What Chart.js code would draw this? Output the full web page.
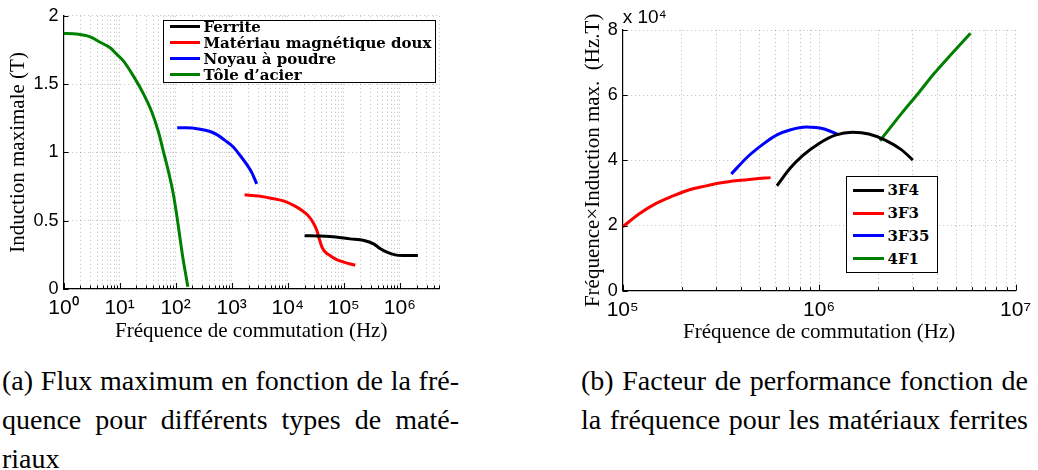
<!DOCTYPE html>
<html>
<head>
<meta charset="utf-8">
<script src="https://cdn.jsdelivr.net/npm/chart.js@4.4.0/dist/chart.umd.min.js"></script>
<style>
 html, body { margin: 0; padding: 0; background: #fff; }
 body { position: relative; width: 1038px; height: 470px; overflow: hidden; }
 .panel { position: absolute; top: 0; }
 .legend { position: absolute; box-sizing: border-box; background: #fff; border: 1.5px solid #000;
           font: bold 15px "DejaVu Serif", serif; color: #000; }
 .legend .row { position: absolute; left: 0; height: 16px; line-height: 16px; white-space: nowrap; }
 .legend .sw { position: absolute; top: 6.5px; height: 3px; }
 .legend .tx { position: absolute; top: 0; }
 .cap { position: absolute; font-family: "Liberation Serif", serif; font-size: 28px; color: #000; }
 .cap div { height: 39px; line-height: 39px; text-align: left; }
 .cap div.jl { text-align: justify; text-align-last: justify; }
</style>
</head>
<body>

<div class="panel" style="left:0;width:460px;height:350px">
  <canvas id="chartA" width="460" height="350"></canvas>
  <div class="legend" id="legendA" style="left:163px;top:20px;width:273px;height:63px"></div>
</div>
<div class="panel" style="left:540px;width:498px;height:350px">
  <canvas id="chartB" width="498" height="350"></canvas>
  <div class="legend" id="legendB" style="left:306px;top:176px;width:92px;height:97px"></div>
</div>

<div class="cap" style="left:2px;top:361px;width:457px">
  <div class="jl">(a) Flux maximum en fonction de la fré-</div>
  <div class="jl">quence pour différents types de maté-</div>
  <div>riaux</div>
</div>
<div class="cap" style="left:581px;top:361px;width:447px">
  <div class="jl">(b) Facteur de performance fonction de</div>
  <div class="jl">la fréquence pour les matériaux ferrites</div>
</div>

<script>
// (a) Induction maximale (T) vs fréquence (Hz)
const ferriteF = [2e4, 3.5e4, 5.7e4, 1.3e5, 2.3e5, 3.4e5, 4.5e5, 5.9e5, 8.3e5, 1.1e6, 2.1e6];
const ferriteB = [0.39, 0.388, 0.384, 0.367, 0.355, 0.33, 0.295, 0.27, 0.25, 0.246, 0.246];

const doux = [1700, 3000, 5000, 8400, 13000, 18000, 24000, 29000, 33000, 37000, 41000, 47000, 57000, 75000, 1e5, 1.6e5];
const douxB = [0.69, 0.68, 0.665, 0.645, 0.61, 0.575, 0.53, 0.48, 0.43, 0.36, 0.305, 0.27, 0.245, 0.215, 0.197, 0.174];

const poudreF = [107, 150, 275, 400, 545, 750, 1070, 1400, 1870, 2300, 2800];
const poudreB = [1.18, 1.18, 1.17, 1.155, 1.13, 1.09, 1.04, 0.98, 0.91, 0.85, 0.77];

const toleF = [1, 1.5, 2.2, 3, 4.5, 6.8, 8.7, 11.7, 17.6, 26.6, 37.6, 49.4, 60.6, 74.5, 89, 102, 117, 134, 154, 165];
const toleB = [1.87, 1.868, 1.86, 1.846, 1.806, 1.766, 1.723, 1.67, 1.56, 1.43, 1.296, 1.15, 1.006, 0.86, 0.717, 0.572, 0.403, 0.234, 0.089, 0.017];

// (b) Fréquence x Induction max (Hz.T) vs fréquence, ferrites
const f3F4 = [6.1e5, 7.1e5, 8.3e5, 1.0e6, 1.22e6, 1.48e6, 1.79e6, 2.17e6, 2.63e6, 3.0e6];
const v3F4 = [3.22e4, 3.75e4, 4.16e4, 4.52e4, 4.78e4, 4.86e4, 4.81e4, 4.62e4, 4.32e4, 4.01e4];

const f3F3 = [1e5, 1.22e5, 1.48e5, 1.79e5, 2.17e5, 2.63e5, 3.18e5, 3.86e5, 4.67e5, 5.66e5];
const v3F3 = [1.96e4, 2.37e4, 2.68e4, 2.9e4, 3.09e4, 3.21e4, 3.31e4, 3.38e4, 3.43e4, 3.47e4];

const f3F35 = [3.57e5, 4.33e5, 5.25e5, 6.1e5, 7.1e5, 8.6e5, 1.05e6, 1.26e6];
const v3F35 = [3.58e4, 4.11e4, 4.52e4, 4.78e4, 4.93e4, 5.02e4, 4.97e4, 4.78e4];

const f4F1 = [2.04e6, 2.63e6, 3.2e6, 3.86e6, 4.67e6, 5.9e6];
const v4F1 = [4.6e4, 5.44e4, 6.06e4, 6.67e4, 7.23e4, 7.9e4];

// tick labels
const aExps = [0, 1, 2, 3, 4, 5, 6];
const aXLabels = ['10⁰', '10¹', '10²', '10³', '10⁴', '10⁵', '10⁶'];
const aYTicks = [0, 0.5, 1, 1.5, 2];
const aYLabels = ['0', '0.5', '1', '1.5', '2'];

const bExps = [5, 6, 7];
const bXLabels = ['10⁵', '10⁶', '10⁷'];
const bYTicks = [0, 2e4, 4e4, 6e4, 8e4];
const bYLabels = ['0', '2', '4', '6', '8'];
const bYMultiplier = 'x 10⁴';

const BLACK = '#000000', RED = '#ff0000', BLUE = '#0000ff', GREEN = '#008000';

function pts(xs, ys) {
  return xs.map((x, i) => ({ x: x, y: ys[i] }));
}

// decades 1..9 x 10^e between min and max
function logTicks(min, max) {
  const out = [];
  for (let e = Math.floor(Math.log10(min)); Math.pow(10, e) <= max; e++) {
    for (let m = 1; m <= 9; m++) {
      const v = m * Math.pow(10, e);
      if (v >= min * 0.999 && v <= max * 1.001) out.push({ value: v, major: m === 1 });
    }
  }
  return out;
}

function decadeLabel(exps, labels) {
  return function (v) {
    const e = Math.round(Math.log10(v));
    if (Math.abs(v - Math.pow(10, e)) > 1e-6 * v) return '';
    const i = exps.indexOf(e);
    return i < 0 ? '' : labels[i];
  };
}

// MATLAB style ticks pointing inside the plot
const innerTicks = {
  id: 'innerTicks',
  afterDraw(chart) {
    const { ctx, chartArea: a, scales: { x, y } } = chart;
    ctx.save();
    ctx.strokeStyle = '#000';
    ctx.lineWidth = 1;
    ctx.beginPath();
    x.ticks.forEach(t => {
      const px = Math.round(x.getPixelForValue(t.value)) + 0.5;
      ctx.moveTo(px, a.bottom);
      ctx.lineTo(px, a.bottom - (t.major ? 6 : 3.5));
    });
    y.ticks.forEach(t => {
      const py = Math.round(y.getPixelForValue(t.value)) + 0.5;
      ctx.moveTo(a.left, py);
      ctx.lineTo(a.left + 5, py);
    });
    ctx.stroke();
    ctx.restore();
  }
};

// axis titles (and the x10^4 multiplier) drawn outside the plot area
const axisTitles = {
  id: 'axisTitles',
  afterDraw(chart, args, o) {
    const { ctx, chartArea: a } = chart;
    ctx.save();
    ctx.fillStyle = '#000';
    ctx.font = o.font;
    ctx.textAlign = 'center';
    ctx.textBaseline = 'middle';
    ctx.fillText(o.x, (a.left + a.right) / 2, a.bottom + o.xOffset);
    ctx.translate(a.left - o.yOffset, (a.top + a.bottom) / 2);
    ctx.rotate(-Math.PI / 2);
    ctx.fillText(o.y, 0, 0);
    ctx.restore();
    if (o.multiplier) {
      ctx.save();
      ctx.fillStyle = '#000';
      ctx.font = '19px "Liberation Sans", Arial, sans-serif';
      ctx.textAlign = 'left';
      ctx.textBaseline = 'middle';
      ctx.fillText(o.multiplier, a.left, a.top - 12);
      ctx.restore();
    }
  }
};

function makeChart(id, cfg) {
  const gridStyle = { color: 'rgba(0,0,0,0.26)', lineWidth: 1, drawTicks: false };
  const borderStyle = { display: true, color: '#000', width: 1.2, dash: [1, 3] };
  return new Chart(document.getElementById(id), {
    type: 'line',
    data: { datasets: cfg.datasets },
    options: {
      responsive: false,
      animation: false,
      layout: { padding: cfg.padding },
      elements: {
        point: { radius: 0 },
        line: { borderWidth: 3, cubicInterpolationMode: 'monotone', fill: false }
      },
      plugins: {
        legend: { display: false },
        tooltip: { enabled: false },
        axisTitles: cfg.titles
      },
      scales: {
        x: {
          type: 'logarithmic',
          min: cfg.xMin, max: cfg.xMax,
          afterBuildTicks: s => { s.ticks = logTicks(cfg.xMin, cfg.xMax); },
          afterFit: s => { s.height = cfg.xHeight; },
          ticks: {
            autoSkip: false, maxRotation: 0, padding: 7, color: '#000',
            font: { family: '"Liberation Sans", Arial, sans-serif', size: 21 },
            callback: decadeLabel(cfg.xExps, cfg.xLabels)
          },
          grid: gridStyle,
          border: borderStyle
        },
        y: {
          type: 'linear',
          min: cfg.yTicks[0], max: cfg.yTicks[cfg.yTicks.length - 1],
          afterBuildTicks: s => { s.ticks = cfg.yTicks.map(v => ({ value: v })); },
          afterFit: s => { s.width = cfg.yWidth; },
          ticks: {
            padding: 5, color: '#000',
            font: { family: '"Liberation Sans", Arial, sans-serif', size: 18 },
            callback: v => cfg.yLabels[cfg.yTicks.indexOf(v)]
          },
          grid: gridStyle,
          border: borderStyle
        }
      }
    },
    plugins: [innerTicks, axisTitles]
  });
}

function buildLegend(chart, boxId, first, step, swX, swW, txX) {
  const box = document.getElementById(boxId);
  chart.data.datasets.forEach((ds, i) => {
    const row = document.createElement('div');
    row.className = 'row';
    row.style.top = (first + i * step) + 'px';
    const sw = document.createElement('span');
    sw.className = 'sw';
    sw.style.left = swX + 'px';
    sw.style.width = swW + 'px';
    sw.style.background = ds.borderColor;
    const tx = document.createElement('span');
    tx.className = 'tx';
    tx.style.left = txX + 'px';
    tx.textContent = ds.label;
    row.append(sw, tx);
    box.append(row);
  });
}

const chartA = makeChart('chartA', {
  datasets: [
    { label: 'Ferrite', data: pts(ferriteF, ferriteB), borderColor: BLACK },
    { label: 'Matériau magnétique doux', data: pts(doux, douxB), borderColor: RED },
    { label: 'Noyau à poudre', data: pts(poudreF, poudreB), borderColor: BLUE },
    { label: 'Tôle d’acier', data: pts(toleF, toleB), borderColor: GREEN }
  ],
  padding: { top: 12.7, right: 21, bottom: 0, left: 0 },
  xMin: 1, xMax: 5e6, xHeight: 61, yWidth: 63.5,
  xExps: aExps, xLabels: aXLabels,
  yTicks: aYTicks, yLabels: aYLabels,
  titles: {
    x: 'Fréquence de commutation (Hz)',
    y: 'Induction maximale (T)',
    font: '21px "Liberation Serif", serif',
    xOffset: 42.5, yOffset: 45.5
  }
});

const chartB = makeChart('chartB', {
  datasets: [
    { label: '3F4', data: pts(f3F4, v3F4), borderColor: BLACK },
    { label: '3F3', data: pts(f3F3, v3F3), borderColor: RED },
    { label: '3F35', data: pts(f3F35, v3F35), borderColor: BLUE },
    { label: '4F1', data: pts(f4F1, v4F1), borderColor: GREEN }
  ],
  padding: { top: 30, right: 15.3, bottom: 0, left: 0 },
  xMin: 1e5, xMax: 1e7, xHeight: 59.3, yWidth: 82.7,
  xExps: bExps, xLabels: bXLabels,
  yTicks: bYTicks, yLabels: bYLabels,
  titles: {
    x: 'Fréquence de commutation (Hz)',
    y: 'Fréquence×Induction max.  (Hz.T)',
    font: '21px "Liberation Serif", serif',
    xOffset: 41.3, yOffset: 29.4,
    multiplier: bYMultiplier
  }
});

buildLegend(chartA, 'legendA', -2.2, 16, 5.5, 30, 39.5);
buildLegend(chartB, 'legendB', 5.2, 22.8, 5.5, 31, 40.5);
</script>
</body>
</html>
